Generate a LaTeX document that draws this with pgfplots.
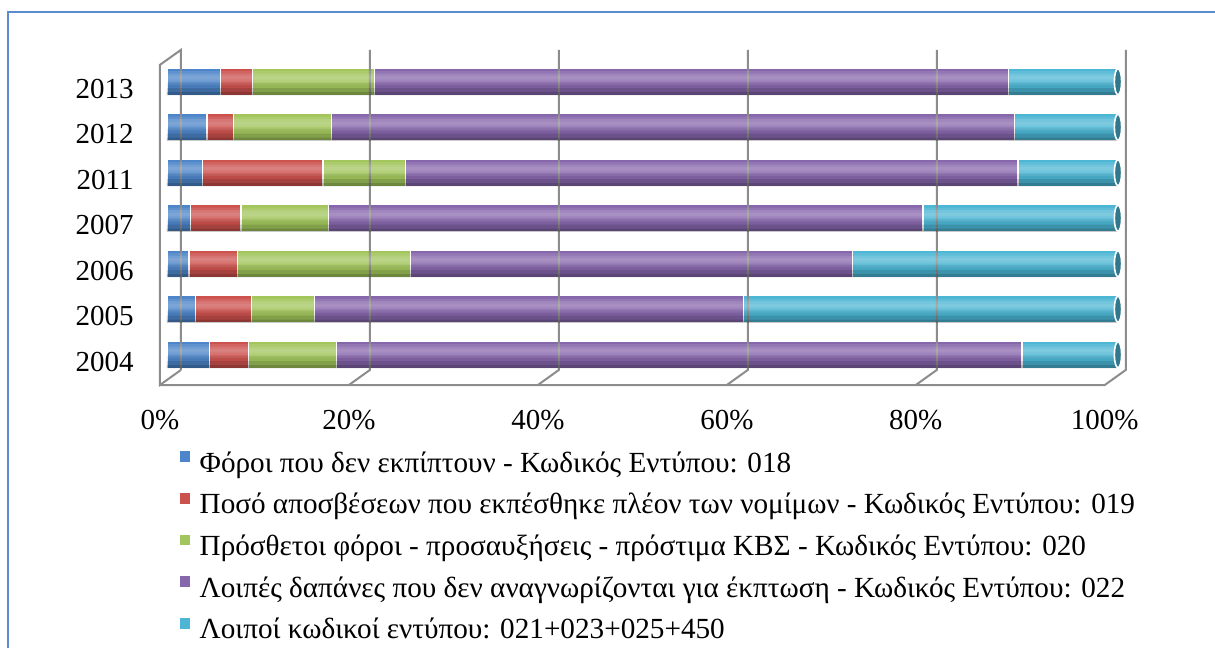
\documentclass[border=0pt]{standalone}
\usepackage{pgfplots}
\pgfplotsset{compat=1.18}
\usepackage{fontspec}
\setmainfont{Liberation Serif}
\definecolor{cB}{HTML}{4C85C9}
\definecolor{cR}{HTML}{CC524E}
\definecolor{cG}{HTML}{A2C65C}
\definecolor{cP}{HTML}{8767AC}
\definecolor{cC}{HTML}{4DB6D4}
\definecolor{capc}{HTML}{31788C}
\definecolor{gridc}{RGB}{140,140,140}
\definecolor{frameblue}{HTML}{5B8BD0}
\pgfplotsset{
  cyl/.style={draw=white, line width=0.7pt, fill=#1},
  band/.style n args={4}{xbar, draw=none, fill=#1, fill opacity=#2, bar width=#3, bar shift=#4},
  frame/.style={gridc, line width=1pt, sharp plot, no marks, stack plots=false, forget plot},
  geom/.style={at={(76.35pt,128.45pt)}, anchor=south west,
    scale only axis, width=492.15pt, height=172.9pt,
    xmin=-1.5, xmax=102, ymin=-0.8, ymax=6.8, clip=false},
}
\begin{document}
\begin{tikzpicture}
\useasboundingbox (0,0) rectangle (607.5pt,324pt);
\fill[white] (0,0) rectangle (607.5pt,324pt);
\draw[frameblue, line width=1.3pt] (4pt,0) -- (4pt,318pt) -- (607.5pt,318pt);
\begin{axis}[
  geom,
  axis line style={draw=none}, tick style={draw=none},
  xbar stacked, bar width=13.5pt,
  ytick={0,1,2,3,4,5,6},
  yticklabels={2004,2005,2006,2007,2011,2012,2013},
  xtick={-0.74,19.13,39.0,58.87,78.74,98.61},
  xticklabels={0\%,20\%,40\%,60\%,80\%,100\%},
  xticklabel style={anchor=center, yshift=-14.5pt},
  yticklabel style={xshift=-6pt, yshift=-3.5pt},
  ticklabel style={font=\fontsize{14.5}{17}\selectfont},
  legend cell align=left,
  legend style={at={(0.026,-0.17)}, anchor=north west, draw=none, fill=none,
    inner sep=0pt, outer sep=0pt, font=\fontsize{14.6}{17}\selectfont,
    row sep=6.2pt, nodes={inner sep=0pt, text height=10.5pt, text depth=3.5pt},
    /tikz/every odd column/.append style={column sep=4pt}},
  legend image code/.code={\fill[#1] (0pt,1.3pt) rectangle (6pt,7.3pt);},
]
% 3D frame, behind the bars
\addplot[frame] coordinates {(-0.74,-0.666) (98.61,-0.666) (100.82,-0.335) (100.82,6.70)};
\addplot[frame] coordinates {(1.47,-0.335) (-0.74,-0.666) (-0.74,6.37) (1.47,6.70) (1.47,-0.335)};
\addplot[frame] coordinates {(19.13,-0.666) (21.34,-0.335) (21.34,6.70)};
\addplot[frame] coordinates {(39.00,-0.666) (41.21,-0.335) (41.21,6.70)};
\addplot[frame] coordinates {(58.87,-0.666) (61.08,-0.335) (61.08,6.70)};
\addplot[frame] coordinates {(78.74,-0.666) (80.95,-0.335) (80.95,6.70)};

\addplot[cyl=cB] coordinates {(4.5,0) (3.0,1) (2.3,2) (2.5,3) (3.75,4) (4.2,5) (5.6,6)};
\addlegendentry{Φόροι που δεν εκπίπτουν - Κωδικός Εντύπου: 018}
\addplot[cyl=cR] coordinates {(4.1,0) (5.9,1) (5.1,2) (5.3,3) (12.65,4) (2.8,5) (3.4,6)};
\addlegendentry{Ποσό αποσβέσεων που εκπέσθηκε πλέον των νομίμων - Κωδικός Εντύπου: 019}
\addplot[cyl=cG] coordinates {(9.2,0) (6.6,1) (18.2,2) (9.2,3) (8.7,4) (10.3,5) (12.8,6)};
\addlegendentry{Πρόσθετοι φόροι - προσαυξήσεις - πρόστιμα ΚΒΣ - Κωδικός Εντύπου: 020}
\addplot[cyl=cP] coordinates {(72.1,0) (45.1,1) (46.5,2) (62.5,3) (64.4,4) (71.8,5) (66.7,6)};
\addlegendentry{Λοιπές δαπάνες που δεν αναγνωρίζονται για έκπτωση - Κωδικός Εντύπου: 022}
\addplot[cyl=cC] coordinates {(10.1,0) (39.4,1) (27.9,2) (20.5,3) (10.5,4) (10.9,5) (11.5,6)};
\addlegendentry{Λοιποί κωδικοί εντύπου: 021+023+025+450}
\end{axis}
% overlay axis: cylinder shading bands and end caps
\begin{axis}[geom, hide axis]
\addplot[band={white}{0.10}{7pt}{1.75pt}] coordinates {(100,0) (100,1) (100,2) (100,3) (100,4) (100,5) (100,6)};
\addplot[band={white}{0.12}{4pt}{2pt}] coordinates {(100,0) (100,1) (100,2) (100,3) (100,4) (100,5) (100,6)};
\addplot[band={white}{0.08}{1.6pt}{2pt}] coordinates {(100,0) (100,1) (100,2) (100,3) (100,4) (100,5) (100,6)};
\addplot[band={black}{0.08}{6pt}{-3.75pt}] coordinates {(100,0) (100,1) (100,2) (100,3) (100,4) (100,5) (100,6)};
\addplot[band={black}{0.12}{3.5pt}{-5pt}] coordinates {(100,0) (100,1) (100,2) (100,3) (100,4) (100,5) (100,6)};
\addplot[band={black}{0.15}{1.5pt}{-6pt}] coordinates {(100,0) (100,1) (100,2) (100,3) (100,4) (100,5) (100,6)};
\addplot[only marks, mark=*, mark size=6.5pt,
  mark options={xscale=0.28, fill=capc, draw=white, line width=0.8pt}]
  coordinates {(100,0) (100,1) (100,2) (100,3) (100,4) (100,5) (100,6)};
\end{axis}
\end{tikzpicture}
\end{document}
